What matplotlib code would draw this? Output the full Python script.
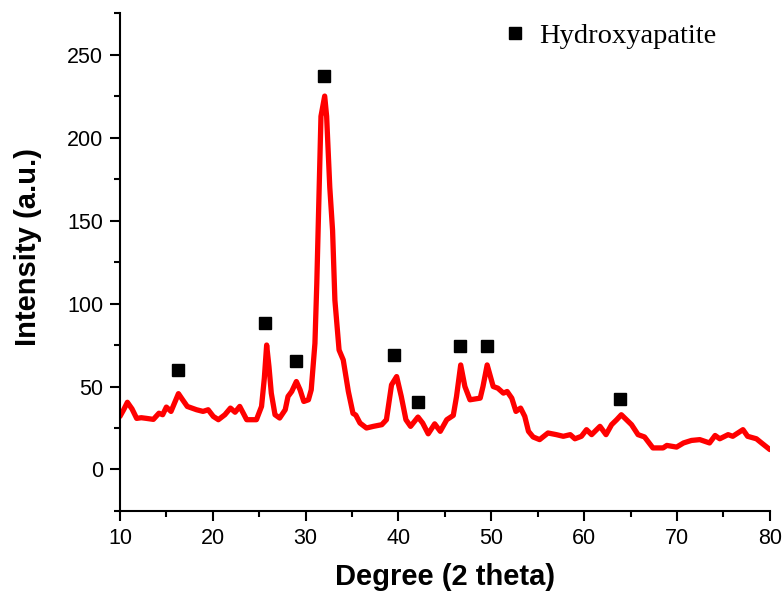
import matplotlib
matplotlib.use("Agg")
import matplotlib.pyplot as plt
from matplotlib.ticker import MultipleLocator
from matplotlib.lines import Line2D

# XRD pattern
two_theta = [10.0, 10.4, 10.8, 11.3, 11.8, 12.3, 12.85, 13.6, 14.2, 14.6, 15.0, 15.5, 16.3, 16.75,
             17.25, 18.25, 18.95, 19.5, 20.05, 20.6, 21.3, 21.9, 22.4, 22.9, 23.65, 24.7, 25.25,
             25.55, 25.8, 26.05, 26.3, 26.7, 27.2, 27.8, 28.1, 28.5, 29.0, 29.4, 29.8, 30.3, 30.6,
             31.0, 31.2, 31.65, 32.05, 32.26, 32.6, 32.9, 33.15, 33.6, 34.05, 34.6, 35.1, 35.4,
             35.85, 36.55, 37.3, 38.2, 38.7, 39.25, 39.8, 40.3, 40.8, 41.3, 42.1, 42.6, 43.2, 43.9,
             44.5, 45.2, 45.9, 46.25, 46.7, 47.15, 47.7, 48.8, 49.1, 49.55, 50.2, 50.7, 51.3, 51.7,
             52.2, 52.65, 53.15, 53.6, 54.0, 54.5, 55.2, 56.1, 57.0, 57.75, 58.5, 59.0, 59.7, 60.25,
             60.8, 61.7, 62.35, 62.95, 63.5, 64.0, 64.55, 65.1, 65.8, 66.5, 67.4, 68.5, 68.9, 69.95,
             70.7, 71.55, 72.45, 73.5, 74.1, 74.6, 75.5, 76.0, 77.1, 77.6, 78.55, 79.1, 80.0]
intensity = [32, 36, 40.5, 36.5, 30.8, 31.2, 30.8, 30.2, 33.9, 33, 37.6, 35, 45.7, 42,
             38, 36, 35, 36, 32, 30, 33, 37, 34.5, 38, 30, 30, 38,
             55, 75, 62, 46, 33, 31, 36, 44, 47, 53, 48, 41, 42, 48,
             76, 112, 212.8, 225, 212.8, 170, 144, 102, 72, 66, 47, 33.8, 32.8,
             28, 25, 26, 27, 30, 51, 56, 44, 30, 26, 31.6, 28, 21.5, 27.5,
             23, 30, 32.6, 44, 63, 50, 42, 43, 50, 63, 50, 49, 46, 47,
             43, 35, 37, 32, 23, 19.6, 18, 22, 21, 20, 21, 18.5, 20, 24,
             21, 26, 21, 27, 30, 33, 30, 27, 21, 19.6, 13, 13, 14.5, 13.5,
             16, 17.5, 18, 16, 20.5, 18.5, 21, 20, 24, 20, 18.5, 16, 12]

# Hydroxyapatite peak markers
marker_x = [16.3, 25.6, 29.0, 31.97, 39.5, 42.1, 46.6, 49.55, 63.85]
marker_y = [59.8, 88.0, 65.2, 237.3, 68.8, 40.6, 74.3, 74.3, 42.7]

x_ticks = [10, 20, 30, 40, 50, 60, 70, 80]
y_ticks = [0, 50, 100, 150, 200, 250]

fig = plt.figure(figsize=(7.84, 5.95), dpi=100)
ax = fig.add_axes([0.153, 0.1412, 0.829, 0.8368])

ax.plot(two_theta, intensity, color="#ff0000", lw=3.8, solid_joinstyle="round",
        solid_capstyle="round", zorder=2)
ax.plot(marker_x, marker_y, linestyle="none", marker="s", color="black", markersize=8, zorder=3)

ax.set_xlim(10, 80)
ax.set_ylim(-25, 275)
ax.set_xticks(x_ticks)
ax.set_yticks(y_ticks)
ax.xaxis.set_minor_locator(MultipleLocator(5))
ax.yaxis.set_minor_locator(MultipleLocator(25))

for s in ["top", "right"]:
    ax.spines[s].set_visible(False)
for s in ["left", "bottom"]:
    ax.spines[s].set_linewidth(1.5)

ax.tick_params(which="major", direction="out", length=7, width=1.5,
               labelsize=15.5, pad=5)
ax.tick_params(which="minor", direction="out", length=4, width=1.5)
for lab in ax.get_xticklabels() + ax.get_yticklabels():
    lab.set_fontfamily("Liberation Sans")

ax.set_xlabel("Degree (2 theta)", fontsize=21, fontweight="bold",
              fontfamily="Liberation Sans", labelpad=10)
ax.set_ylabel("Intensity (a.u.)", fontsize=21, fontweight="bold",
              fontfamily="Liberation Sans")
ax.yaxis.set_label_coords(-0.120, 0.53)

handle = Line2D([], [], linestyle="none", marker="s", color="black", markersize=8)
ax.legend([handle], ["Hydroxyapatite"], loc="upper left",
          bbox_to_anchor=(0.551, 1.032), frameon=False, handlelength=0.8,
          handletextpad=0.45, prop={"family": "Liberation Serif", "size": 20.5})

fig.savefig("out.png", dpi=100)
